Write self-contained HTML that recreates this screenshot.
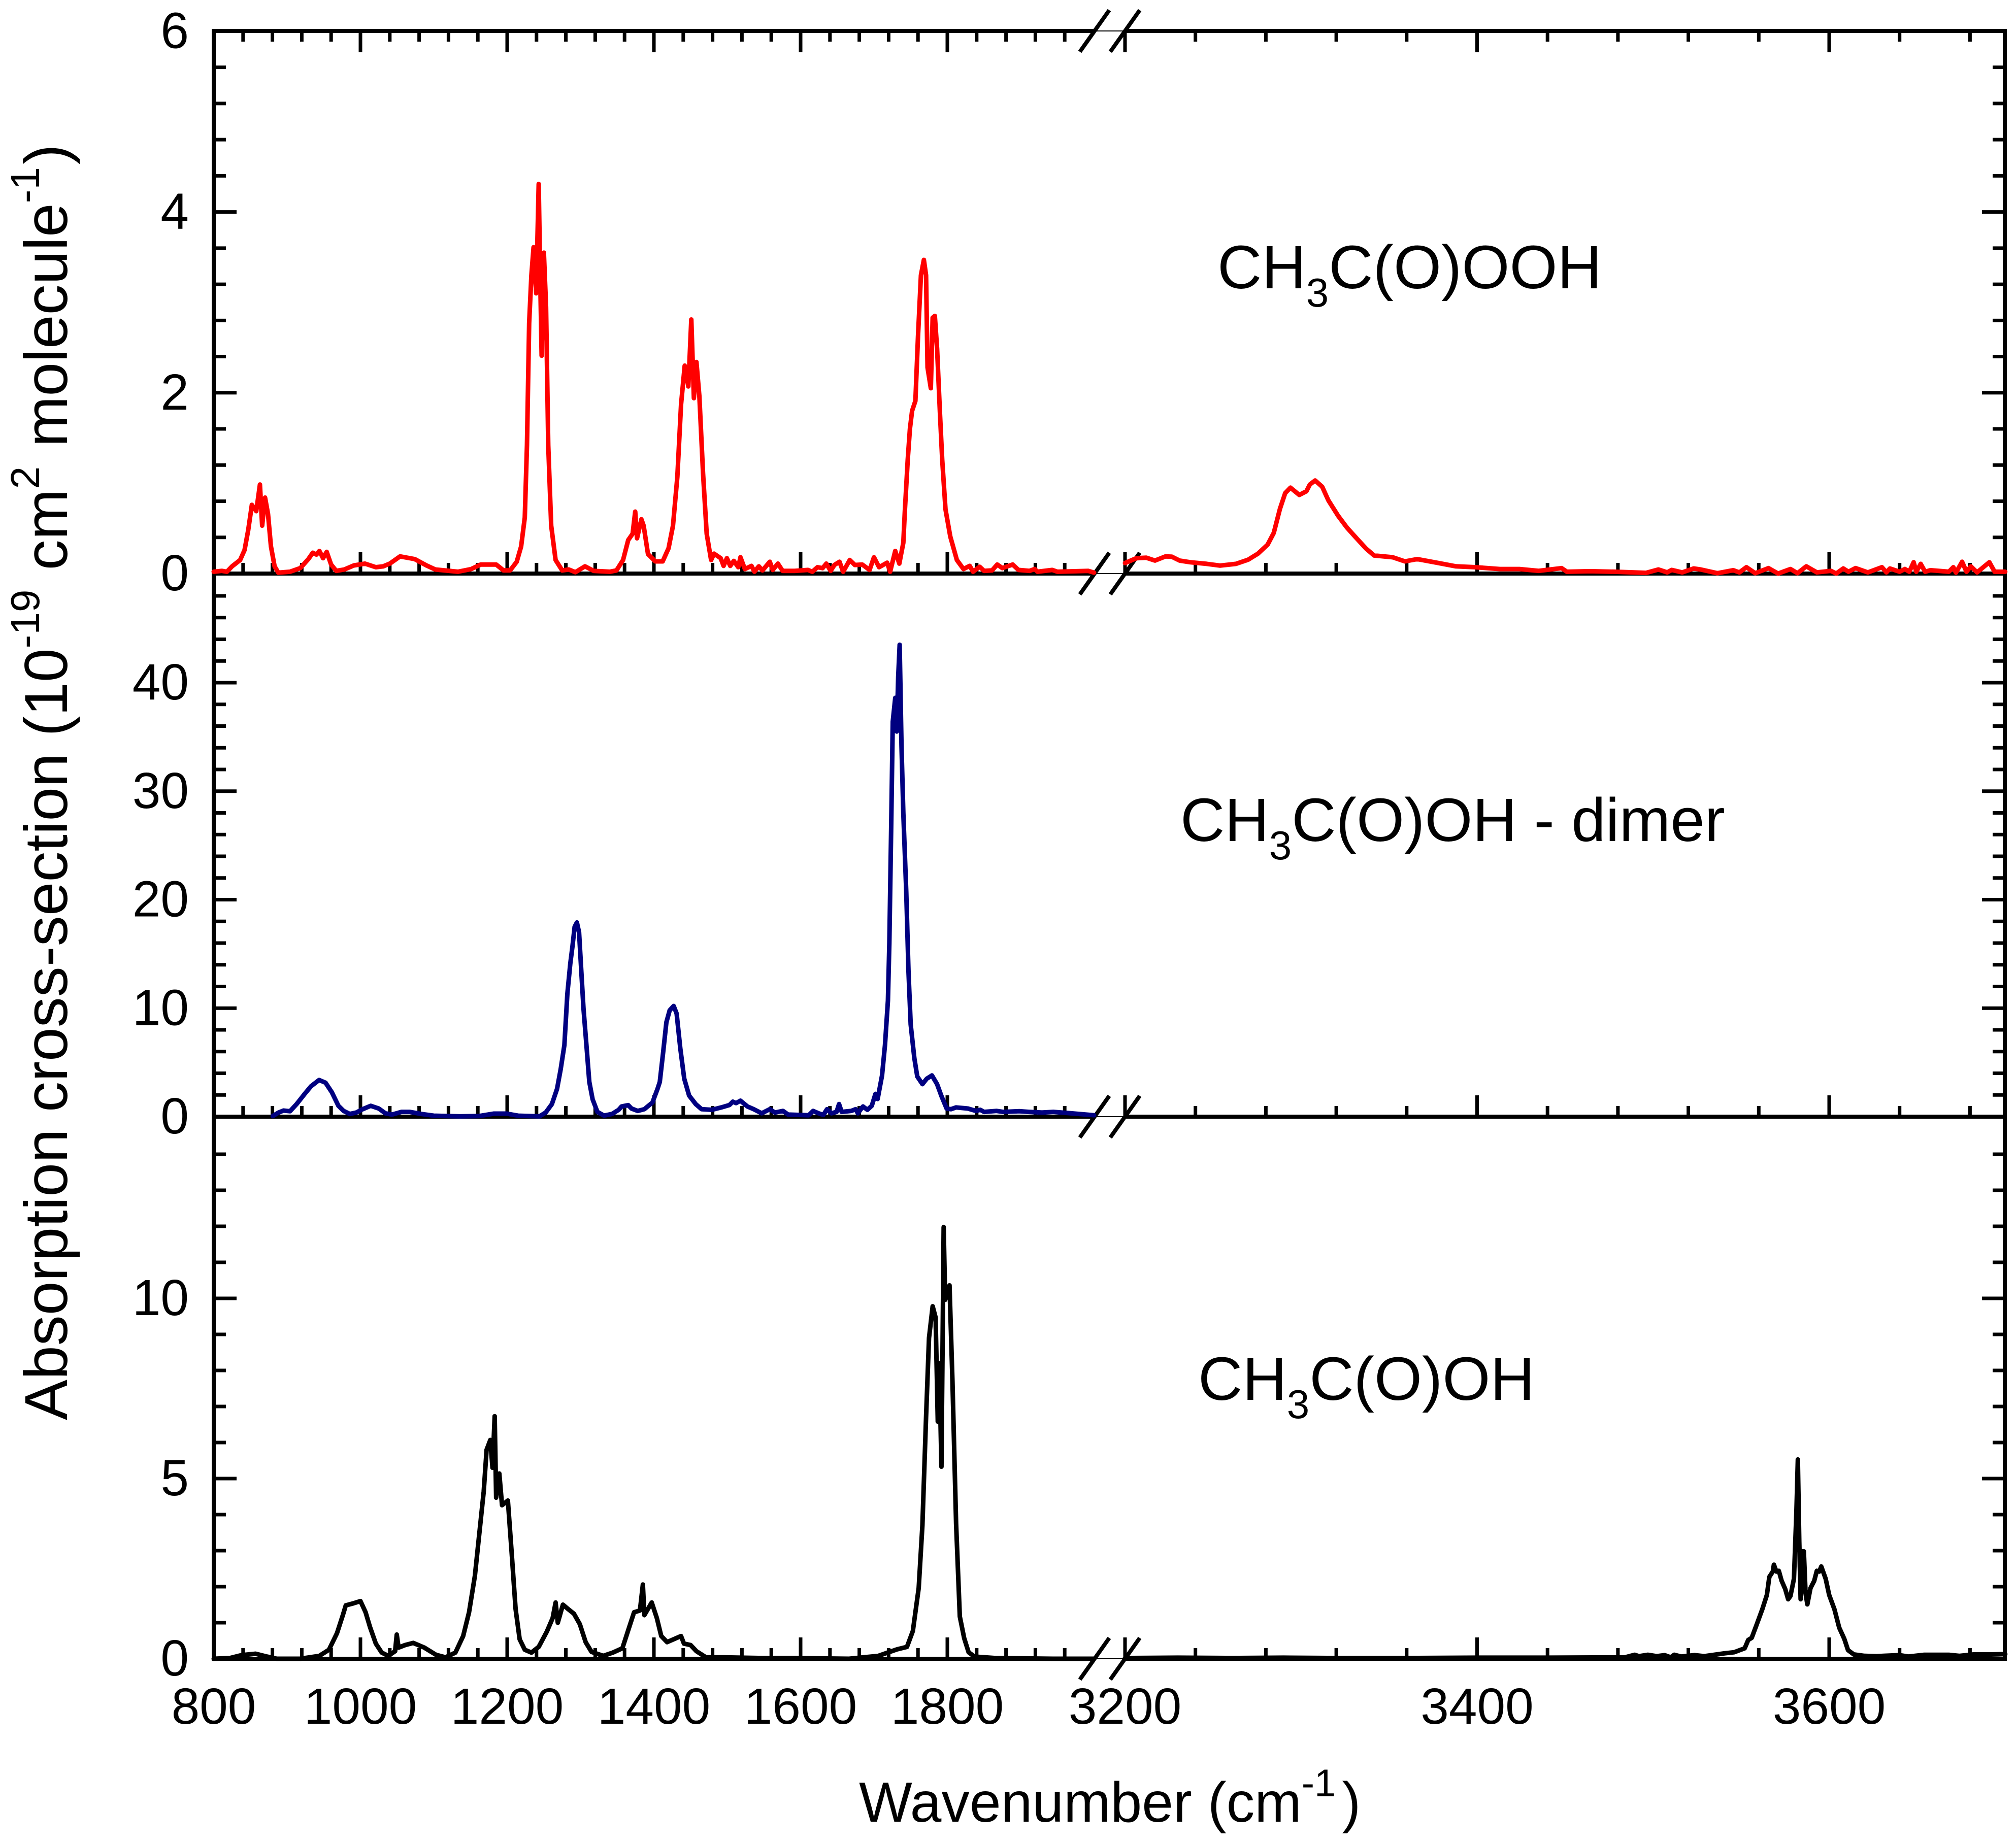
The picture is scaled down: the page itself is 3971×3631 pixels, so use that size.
<!DOCTYPE html>
<html lang="en">
<head>
<meta charset="utf-8">
<title>Absorption cross-sections</title>
<style>
html,body{margin:0;padding:0;background:#fff;}
svg{display:block;}
text{font-family:"Liberation Sans",Arial,sans-serif;fill:#000;}
</style>
</head>
<body>
<svg id="chart" xmlns="http://www.w3.org/2000/svg" width="3971" height="3631" viewBox="0 0 3971 3631">
<rect x="0" y="0" width="3971" height="3631" fill="#fff"/>
<g id="axes"></g>
<g id="series"></g>
<text transform="translate(132,2798) rotate(-90)" font-size="120">Absorption cross-section (10<tspan dy="-55" font-size="80">-19</tspan><tspan dy="55" dx="5"> cm</tspan><tspan dy="-55" font-size="80">2</tspan><tspan dy="55" dx="5"> molecule</tspan><tspan dy="-55" font-size="80">-1</tspan><tspan dy="55" dx="5">)</tspan></text>
<text x="1692" y="3589" font-size="111">Wavenumber (cm<tspan dy="-50" font-size="76">-1</tspan><tspan dy="50" dx="12">)</tspan></text>
<text x="2398" y="568" font-size="121">CH<tspan dy="36" font-size="80">3</tspan><tspan dy="-36">C(O)OOH</tspan></text>
<text x="2325" y="1657" font-size="121">CH<tspan dy="36" font-size="80">3</tspan><tspan dy="-36">C(O)OH - dimer</tspan></text>
<text x="2360" y="2758" font-size="121">CH<tspan dy="36" font-size="80">3</tspan><tspan dy="-36">C(O)OH</tspan></text>
</svg>
<script>
// ---------- Chart data ----------
const redWn = [800,811,818,825,836,842,847,852,858,863,866,870,874,878,883,888,904,918,929,935,940,944,949,954,960,967,978,991,1006,1021,1031,1040,1054,1074,1090,1102,1133,1151,1164,1185,1195,1204,1213,1219,1224,1227,1230,1233,1236,1239.5,1243,1245,1247,1250,1253,1256,1260,1266,1275,1284,1293,1306,1318,1340,1349,1358,1365,1371,1374.5,1377,1383,1386,1392,1402,1412,1420,1426,1432,1437,1442,1447,1451,1454.5,1458,1462,1467,1472,1478,1482,1491,1495,1499.5,1504,1509,1515,1518,1524,1533,1537,1543,1548,1558,1562,1569,1575.5,1592,1610,1616,1623,1630,1635,1641,1646,1653,1658,1667,1674,1684,1694,1700,1707,1718,1722,1729,1734.5,1740,1742,1746,1749,1752,1756.5,1760,1764,1768,1771,1773,1777.5,1780,1783,1786,1790,1793,1797.5,1804,1813,1822,1830.5,1835,1844,1850,1861,1868,1875,1889,1897,1912,1919,1923,1943,1950,1992,2000,
3200,3206.5,3212,3217,3223,3226.5,3231,3237,3246.5,3254,3263,3270,3275.5,3281,3284.5,3288,3291,3294,3299,3303,3305,3308,3312,3315.5,3321,3326,3332,3337,3341.5,3352,3359,3366,3377,3388,3399,3413,3424,3435,3448,3451,3464,3478,3496,3503,3508,3510.5,3516.5,3523,3527,3536.5,3545.5,3549,3553,3558,3565.5,3571,3578,3582,3587,3593,3601,3604,3608,3611,3615,3622,3630,3632.5,3634.5,3640,3643,3645.5,3648,3649.5,3652,3654.5,3657.5,3668,3670.5,3672,3675.5,3678,3680.5,3684,3691,3694,3700];
const redCs = [0.02,0.03,0.02,0.08,0.15,0.26,0.48,0.76,0.69,0.985,0.53,0.84,0.66,0.30,0.08,0.01,0.02,0.06,0.16,0.23,0.21,0.25,0.17,0.24,0.10,0.03,0.045,0.09,0.11,0.07,0.08,0.11,0.19,0.16,0.09,0.045,0.02,0.05,0.10,0.10,0.035,0.035,0.13,0.30,0.62,1.42,2.77,3.3,3.61,3.1,4.31,3.3,2.41,3.55,2.95,1.42,0.53,0.15,0.035,0.045,0.015,0.08,0.03,0.02,0.035,0.15,0.37,0.44,0.685,0.39,0.6,0.53,0.215,0.135,0.135,0.28,0.53,1.07,1.87,2.3,2.07,2.81,1.94,2.34,1.96,1.11,0.44,0.15,0.22,0.17,0.085,0.17,0.085,0.14,0.07,0.18,0.05,0.085,0.02,0.08,0.035,0.13,0.04,0.11,0.03,0.03,0.04,0.02,0.07,0.06,0.11,0.03,0.095,0.13,0.02,0.15,0.095,0.10,0.04,0.18,0.07,0.12,0.02,0.25,0.11,0.34,0.68,1.26,1.6,1.8,1.91,2.62,3.3,3.47,3.3,2.28,2.05,2.83,2.85,2.49,1.77,1.26,0.71,0.41,0.15,0.05,0.085,0.02,0.075,0.03,0.035,0.10,0.06,0.10,0.04,0.03,0.05,0.02,0.04,0.02,0.03,0.01,
0.116,0.17,0.176,0.144,0.19,0.187,0.144,0.125,0.107,0.088,0.107,0.154,0.22,0.32,0.45,0.715,0.89,0.95,0.87,0.91,0.985,1.03,0.96,0.81,0.64,0.51,0.38,0.275,0.20,0.18,0.135,0.16,0.12,0.08,0.07,0.05,0.05,0.03,0.06,0.02,0.026,0.02,0.008,0.045,0.013,0.04,0.013,0.056,0.045,0.004,0.037,0.013,0.07,0.004,0.06,0,0.05,0.004,0.08,0.013,0.03,0,0.056,0.02,0.06,0.013,0.07,0.013,0.056,0.02,0.05,0.02,0.125,0.02,0.107,0.02,0.037,0.02,0.07,0.01,0.13,0.02,0.08,0.013,0.125,0.02,0.02];

const blueWn = [880.5,888.4,895,904,913,924,932.5,943.6,952.4,961,970,977,985.5,994.3,1003,1014,1025,1034,1043,1056,1067,1083,1100,1135.5,1162,1182,1199.5,1215,1244,1252.5,1261,1268,1273,1278,1282,1286,1289,1292,1295,1298,1301,1304,1308,1312,1316.5,1323,1332,1343,1352,1356,1365,1369.5,1378,1387,1398,1405,1408,1412.7,1417,1421.5,1427,1431,1436,1441.4,1448,1457,1465,1479,1492,1503,1507.6,1512,1518,1527.5,1536,1547,1558,1565,1576,1583,1611,1617,1624.5,1631,1636,1642,1649,1652.4,1656,1669,1675,1678,1685,1691,1697,1702,1705,1711,1715,1719,1721,1723.4,1725.6,1729,1731,1733,1735,1737.5,1740,1744,1747,1750,1755,1759,1766,1772,1779,1786,1792,1799,1805,1812,1828,1839,1845,1850,1867,1876,1898,1911.4,1929,1944.5,1969,2000];
const blueCs = [0.06,0.38,0.56,0.5,1.16,2.1,2.8,3.38,3.13,2.25,1.0,0.53,0.25,0.38,0.69,1.0,0.75,0.31,0.19,0.44,0.44,0.25,0.09,0.03,0.06,0.28,0.28,0.09,0.03,0.38,1.16,2.57,4.4,6.6,11.3,14.1,15.7,17.5,17.9,17,13.5,10,6.6,3.2,1.6,0.44,0.1,0.25,0.63,0.94,1.06,0.75,0.53,0.69,1.3,2.57,3.2,6.0,8.7,9.8,10.2,9.5,6.3,3.5,1.94,1.16,0.69,0.63,0.85,1.07,1.38,1.25,1.47,0.94,0.69,0.31,0.69,0.38,0.53,0.19,0.13,0.53,0.31,0.16,0.69,0.31,0.44,1.16,0.44,0.53,0.69,0.31,0.94,0.63,1.0,2.1,1.63,3.8,6.6,10.7,16,26.4,36.4,38.6,35.5,40.5,43.5,34.2,28,20.7,13.5,8.5,5.4,3.7,3,3.5,3.8,3,1.9,0.75,0.69,0.85,0.75,0.53,0.63,0.44,0.53,0.44,0.5,0.44,0.38,0.44,0.31,0.13];

const blackWn = [800,822,838,857,872.5,886,918,944,957,968,976,980,989,1000,1007,1013,1021,1029,1038,1047.3,1049.5,1052,1061,1072,1087,1103,1116,1129.4,1140,1148,1156,1162,1168,1172,1177,1180,1183,1185,1189.3,1193,1201,1206,1211.5,1217,1224,1233,1243,1254,1262,1266,1269,1276,1283,1291,1299,1307,1315,1331,1344,1357,1365,1373,1381,1385,1387,1397,1404,1410,1418,1437,1441,1450,1458,1471,1495,1547,1586.4,1666,1706,1731.4,1745,1753,1761,1766,1771,1775,1780,1784,1787,1789,1792,1795,1797,1803,1807,1812,1817,1823,1829,1837,1865,1944,2000,
3200,3230,3260,3290,3320,3360,3400,3440,3484,3489.5,3492,3497,3502,3506.5,3510,3512,3516,3523.5,3529,3540.5,3546,3552,3554,3556,3559,3562,3564.6,3566,3568,3568.6,3570,3571.4,3573,3575,3576.7,3578,3580,3581.4,3582.2,3583,3583.8,3584.8,3585.6,3586.6,3587.6,3589.4,3591.5,3593,3594.4,3595.5,3598,3600,3603,3605.7,3608.6,3610.7,3614,3620,3627,3631,3640,3645,3654,3668,3674,3682,3692,3700];
const blackCs = [0,0.02,0.1,0.14,0.06,0,0,0.08,0.25,0.71,1.21,1.48,1.53,1.6,1.29,0.88,0.42,0.17,0.08,0.21,0.67,0.31,0.38,0.44,0.31,0.11,0.04,0.17,0.63,1.29,2.3,3.47,4.64,5.8,6.07,5.3,6.73,4.47,5.14,4.26,4.39,2.97,1.38,0.54,0.25,0.17,0.33,0.75,1.13,1.56,1.0,1.5,1.38,1.25,0.96,0.46,0.19,0.08,0.17,0.29,0.79,1.29,1.34,2.06,1.21,1.56,1.13,0.63,0.46,0.63,0.42,0.38,0.21,0.04,0.04,0.02,0.02,0,0.08,0.26,0.33,0.77,1.96,3.7,6.7,8.9,9.78,9.47,6.58,8.2,5.33,11.98,9.96,10.36,7.7,3.74,1.17,0.57,0.18,0.06,0.02,0,0,
0.02,0.03,0.02,0.03,0.02,0.02,0.03,0.03,0.04,0.11,0.07,0.11,0.07,0.1,0.04,0.11,0.06,0.1,0.07,0.15,0.18,0.29,0.52,0.58,0.97,1.37,1.77,2.27,2.42,2.61,2.42,2.44,2.16,1.94,1.65,1.74,2.22,4.09,5.53,3.24,1.65,2.98,2.98,1.82,1.51,1.96,2.16,2.44,2.42,2.56,2.22,1.77,1.37,0.86,0.55,0.24,0.12,0.08,0.07,0.08,0.1,0.06,0.11,0.11,0.08,0.12,0.12,0.13];

const topTickLabels = [0,2,4,6];
const midTickLabels = [0,10,20,30,40];
const botTickLabels = [0,5,10];
const xTickLabels = [800,1000,1200,1400,1600,1800,3200,3400,3600];

// ---------- Axis functions ----------
const NS = 'http://www.w3.org/2000/svg';
const axes = document.getElementById('axes');
const seriesG = document.getElementById('series');
const xLeft = 421, xBreak1 = 2156, xBreak2 = 2216, xRight = 3949;
const yTop = 61, yA = 1130, yB = 2200, yC = 3268;
function xScale(w){
  return w <= 2100 ? 421 + (w - 800) * 1.445 : 2216 + (w - 3200) * 3.4675;
}
const yTopPanel = v => yA - v * 178.1;
const yMidPanel = v => yB - v * 21.375;
const yBotPanel = v => yC - v * 71;

function line(parent, x1, y1, x2, y2, w, color){
  const el = document.createElementNS(NS, 'line');
  el.setAttribute('x1', x1);
  el.setAttribute('y1', y1);
  el.setAttribute('x2', x2);
  el.setAttribute('y2', y2);
  el.setAttribute('stroke', color || '#000');
  el.setAttribute('stroke-width', w);
  parent.appendChild(el);
  return el;
}
function label(parent, x, y, str, anchor){
  const el = document.createElementNS(NS, 'text');
  el.setAttribute('x', x);
  el.setAttribute('y', y);
  el.setAttribute('font-size', '100');
  el.setAttribute('text-anchor', anchor);
  el.textContent = str;
  parent.appendChild(el);
  return el;
}

// Frame
const spines = [
  [xLeft, yTop - 4, xLeft, yC + 4],
  [xRight, yTop - 4, xRight, yC + 4],
  [xLeft, yTop, xBreak1, yTop], [xBreak2, yTop, xRight, yTop],
  [xLeft, yA, xBreak1, yA], [xBreak2, yA, xRight, yA],
  [xLeft, yB, xBreak1, yB], [xBreak2, yB, xRight, yB],
  [xLeft, yC, xBreak1, yC], [xBreak2, yC, xRight, yC]
];
spines.forEach(s => {
  const el = line(axes, s[0], s[1], s[2], s[3], 8);
  
  
});
[yTop, yA, yB, yC].forEach(y => {
  const thin = line(axes, xBreak1, y, xBreak2, y, 2);
  
  
  [xBreak1, xBreak2].forEach(x => {
    const el = line(axes, x - 29, y + 41, x + 29, y - 41, 8);
    
    
  });
});

// X ticks
function xTicks(){
  const list = [];
  for (let w = 800; w <= 1960; w += 40) list.push([w, (w % 200) === 0]);
  for (let w = 3200; w <= 3680; w += 40) list.push([w, (w % 200) === 0]);
  return list;
}
xTicks().forEach(t => {
  const x = xScale(t[0]);
  const len = t[1] ? 42 : 21;
  if (t[0] === 800) return;
  [yA, yB, yC].forEach(y => {
    const el = line(axes, x, y, x, y - len, 7);
    
    
  });
  const top = line(axes, x, yTop, x, yTop + len, 7);
  
  
});
xTickLabels.forEach(w => {
  const el = label(axes, xScale(w), 3396, String(w), 'middle');
  
  
});

// Y ticks
function yTicks(scale, labels, minorStep, majorStep, max){
  for (let v = 0; v <= max + 1e-9; v += minorStep) {
    const y = scale(v);
    const r = v / majorStep;
    const major = Math.abs(r - Math.round(r)) < 1e-6;
    const len = major ? 45 : 24;
    if (v > 1e-9 && v < max - 1e-9) {
      const a = line(axes, xLeft, y, xLeft + len, y, 7);
      
      
      const b = line(axes, xRight, y, xRight - len, y, 7);
      
      
    }
  }
  labels.forEach(v => {
    const el = label(axes, 372, scale(v) + 33, String(v), 'end');
    
    
  });
}
yTicks(yTopPanel, topTickLabels, 0.4, 2, 6);
yTicks(yMidPanel, midTickLabels, 2, 10, 50);
yTicks(yBotPanel, botTickLabels, 1, 5, 15);

// Series
function drawSeries(wn, cs, scale, color, name){
  let left = '', right = '';
  wn.forEach((w, i) => {
    const p = xScale(w).toFixed(1) + ',' + scale(cs[i]).toFixed(1) + ' ';
    if (w <= 2100) left += p; else right += p;
  });
  [left, right].forEach(pts => {
    if (!pts) return;
    const el = document.createElementNS(NS, 'polyline');
    el.setAttribute('points', pts.trim());
    el.setAttribute('fill', 'none');
    el.setAttribute('stroke', color);
    el.setAttribute('stroke-width', '9');
    el.setAttribute('stroke-linejoin', 'round');
    el.setAttribute('stroke-linecap', 'round');
    
    
    seriesG.appendChild(el);
  });
}
drawSeries(redWn, redCs, yTopPanel, '#ff0000', 'peracetic-acid-spectrum');
drawSeries(blueWn, blueCs, yMidPanel, '#000080', 'acetic-acid-dimer-spectrum');
drawSeries(blackWn, blackCs, yBotPanel, '#000000', 'acetic-acid-spectrum');
</script>
</body>
</html>
